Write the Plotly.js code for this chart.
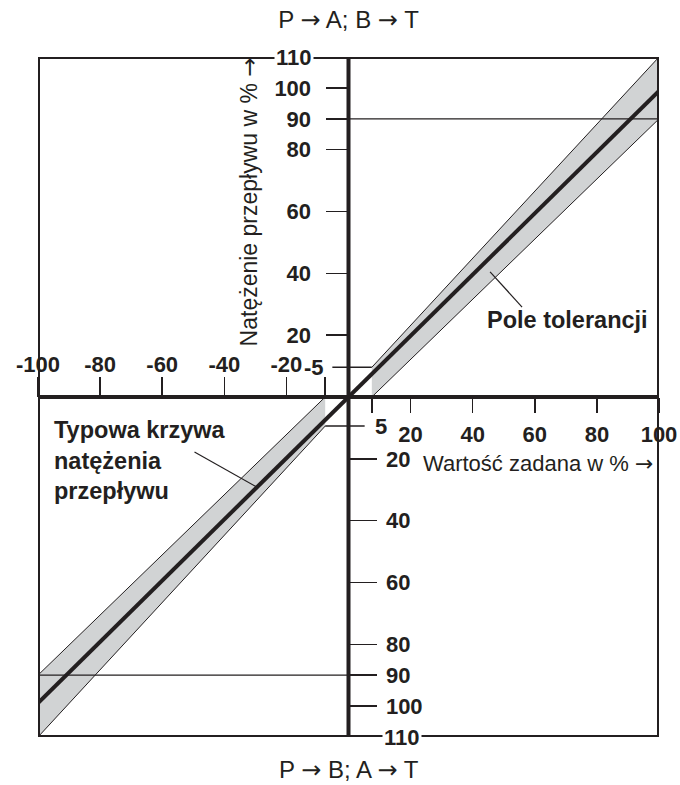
<!DOCTYPE html>
<html><head><meta charset="utf-8">
<script src="https://cdn.plot.ly/plotly-3.0.1.min.js"></script>
<style>html,body{margin:0;padding:0;background:#fff}</style>
</head><body><div id="chart" style="width:680px;height:785px"></div>
<script>
// ---- data ----
const xTicksPos = [20, 40, 60, 80, 100];
const xTickLabelsPos = ['20', '40', '60', '80', '100'];
const xTicksNeg = [-100, -80, -60, -40, -20];
const xTickLabelsNeg = ['-100', '-80', '-60', '-40', '-20'];
const yTicksUp = [20, 40, 60, 80, 90, 100];
const yTickLabelsUp = ['20', '40', '60', '80', '90', '100'];
const yTicksDown = [-20, -40, -60, -80, -90, -100];
const yTickLabelsDown = ['20', '40', '60', '80', '90', '100'];
const smallXTicks = [-7.5, 7.5];            // unlabeled "5" marks on the x axis
const smallYTickUp = 9.6, smallYTickUpLabel = '-5';
const smallYTickDown = -9.4, smallYTickDownLabel = '5';
const smallYTickUpX = [-5.2, 7.5];
const smallYTickDownX = [-7.5, 5.2];
const curveX = [-100, 0, 100];
const curveY = [-99, 0, 99];
const tolUpPosX = [7.5, 100], tolUpPosY = [9.6, 110];
const tolLowPosX = [7.5, 100], tolLowPosY = [0, 90];
const tolUpNegX = [-7.5, -100], tolUpNegY = [0, -90];
const tolLowNegX = [-7.5, -100], tolLowNegY = [-9.4, -110];
const line90UpX = [0, 100], line90UpY = [90, 90];
const line90DownX = [-100, 0], line90DownY = [-90, -90];
const leaderTolX = [45.6, 55.9], leaderTolY = [40.5, 29.1];
const leaderTypX = [-49.6, -29.6], leaderTypY = [-17.8, -29.1];

const INK = '#231f20';
const GRAY = '#d1d3d4';
const ARROW = '<span style="font-family:DejaVu Sans">→</span>';
const FAM = 'Liberation Sans, Arial, sans-serif';
const tickFont = {family: FAM, size: 22, color: INK, weight: 'bold'};
const calloutFont = {family: FAM, size: 23.5, color: INK, weight: 'bold'};
const titleFont = {family: FAM, size: 24, color: INK};
const xTitleFont = {family: FAM, size: 22, color: INK};
const yTitleFont = {family: FAM, size: 23, color: INK};

const traces = [
  {x: [tolLowPosX[0], tolUpPosX[0], tolUpPosX[1], tolLowPosX[1]],
   y: [tolLowPosY[0], tolUpPosY[0], tolUpPosY[1], tolLowPosY[1]],
   fill: 'toself', fillcolor: GRAY, mode: 'lines', line: {width: 0}, hoverinfo: 'skip'},
  {x: [tolUpNegX[0], tolLowNegX[0], tolLowNegX[1], tolUpNegX[1]],
   y: [tolUpNegY[0], tolLowNegY[0], tolLowNegY[1], tolUpNegY[1]],
   fill: 'toself', fillcolor: GRAY, mode: 'lines', line: {width: 0}, hoverinfo: 'skip'},
  {x: tolUpPosX, y: tolUpPosY, mode: 'lines', line: {color: INK, width: 1}},
  {x: tolLowPosX, y: tolLowPosY, mode: 'lines', line: {color: INK, width: 1}},
  {x: tolUpNegX, y: tolUpNegY, mode: 'lines', line: {color: INK, width: 1}},
  {x: tolLowNegX, y: tolLowNegY, mode: 'lines', line: {color: INK, width: 1}},
  {x: line90UpX, y: line90UpY, mode: 'lines', line: {color: INK, width: 1.2}},
  {x: smallYTickUpX, y: [smallYTickUp, smallYTickUp], mode: 'lines', line: {color: INK, width: 1.5}},
  {x: smallYTickDownX, y: [smallYTickDown, smallYTickDown], mode: 'lines', line: {color: INK, width: 1.5}},
  {x: leaderTolX, y: leaderTolY, mode: 'lines', line: {color: INK, width: 1.2}},
  {x: leaderTypX, y: leaderTypY, mode: 'lines', line: {color: INK, width: 1.2}},
  {x: curveX, y: curveY, mode: 'lines', line: {color: INK, width: 4}},
  {x: line90DownX, y: line90DownY, mode: 'lines', line: {color: INK, width: 1.2}, xaxis: 'x2', yaxis: 'y2'}
];

const axCommon = {showgrid: false, zeroline: false, showline: false, tickmode: 'array',
  ticks: 'outside', tickwidth: 1.5, tickcolor: INK, tickfont: tickFont, fixedrange: true,
  anchor: 'free', position: 0.5};

const layout = {
  width: 680, height: 785,
  margin: {l: 38, r: 21, t: 57, b: 48},
  paper_bgcolor: '#fff', plot_bgcolor: '#fff',
  showlegend: false,
  title: {text: 'P ' + ARROW + ' A; B ' + ARROW + ' T', x: 0.5, xref: 'paper', xanchor: 'center',
          y: 1 - 20 / 785, yref: 'container', yanchor: 'middle', font: titleFont},
  xaxis: Object.assign({}, axCommon, {range: [-100, 100], side: 'bottom',
    tickvals: xTicksPos.concat([smallXTicks[1]]), ticktext: xTickLabelsPos.concat(['']),
    ticklen: 15, ticklabelstandoff: 3}),
  xaxis2: Object.assign({}, axCommon, {range: [-100, 100], side: 'top', overlaying: 'x',
    tickvals: xTicksNeg.concat([smallXTicks[0]]), ticktext: xTickLabelsNeg.concat(['']),
    ticklen: 20, ticklabelstandoff: -4}),
  yaxis: Object.assign({}, axCommon, {range: [-110, 110], side: 'left',
    tickvals: yTicksUp, ticktext: yTickLabelsUp, ticklen: 23, ticklabelstandoff: 10}),
  yaxis2: Object.assign({}, axCommon, {range: [-110, 110], side: 'right', overlaying: 'y',
    tickvals: yTicksDown, ticktext: yTickLabelsDown, ticklen: 27, ticklabelstandoff: 5}),
  shapes: [
    {type: 'rect', xref: 'x', yref: 'y', x0: -100, x1: 100, y0: -110, y1: 110,
     line: {color: INK, width: 4}},
    {type: 'line', xref: 'x', yref: 'y', x0: 0, x1: 0, y0: -110, y1: 110, line: {color: INK, width: 4}},
    {type: 'line', xref: 'x', yref: 'y', x0: -100, x1: 100, y0: 0, y1: 0, line: {color: INK, width: 4}}
  ],
  annotations: [
    {xref: 'x', yref: 'y', x: 0, y: 110, xanchor: 'right', yanchor: 'middle', xshift: -35,
     text: '110', showarrow: false, font: tickFont, bgcolor: '#fff', borderpad: 1},
    {xref: 'x', yref: 'y', x: 0, y: -110, xanchor: 'left', yanchor: 'middle', xshift: 33,
     text: '110', showarrow: false, font: tickFont, bgcolor: '#fff', borderpad: 1},
    {xref: 'x', yref: 'y', x: smallYTickUpX[0], y: smallYTickUp, xanchor: 'right', yanchor: 'middle', xshift: -6,
     text: smallYTickUpLabel, showarrow: false, font: tickFont},
    {xref: 'x', yref: 'y', x: smallYTickDownX[1], y: smallYTickDown, xanchor: 'left', yanchor: 'middle', xshift: 8,
     text: smallYTickDownLabel, showarrow: false, font: tickFont},
    {xref: 'x', yref: 'y', x: 44, y: 24.9, xanchor: 'left', yanchor: 'middle',
     text: 'Pole tolerancji', showarrow: false, font: calloutFont},
    {xref: 'x', yref: 'y', x: -95.4, y: -20.7, xanchor: 'left', yanchor: 'middle', align: 'left',
     text: 'Typowa krzywa<br>natężenia<br>przepływu', showarrow: false, font: calloutFont},
    {xref: 'x', yref: 'y', x: -31.9, y: 63.1, xanchor: 'center', yanchor: 'middle', textangle: -90,
     text: 'Natężenie przepływu w % ' + ARROW, showarrow: false, font: yTitleFont},
    {xref: 'x', yref: 'y', x: 98.8, y: -21.4, xanchor: 'right', yanchor: 'middle',
     text: 'Wartość zadana w % ' + ARROW, showarrow: false, font: xTitleFont},
    {xref: 'paper', yref: 'paper', x: 0.5, y: (737 - 770) / 680, xanchor: 'center', yanchor: 'middle',
     text: 'P ' + ARROW + ' B; A ' + ARROW + ' T', showarrow: false, font: titleFont}
  ]
};

Plotly.newPlot('chart', traces, layout, {staticPlot: true, displayModeBar: false});
</script></body></html>
